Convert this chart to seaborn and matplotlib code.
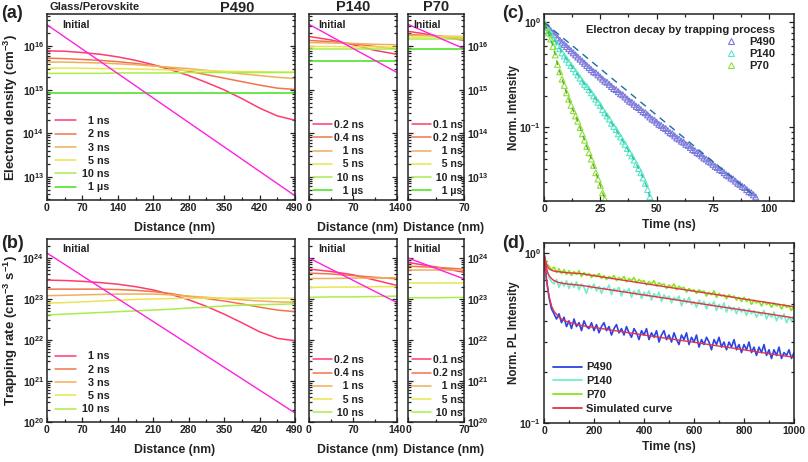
import matplotlib
matplotlib.use("Agg")
import matplotlib.pyplot as plt
import numpy as np
import seaborn as sns
from matplotlib.lines import Line2D
from matplotlib.ticker import LogLocator, MultipleLocator, NullFormatter

# ---------------- data ----------------
# (a) electron density, log10 of cm^-3
X490 = [0, 35, 70, 105, 140, 175, 210, 245, 280, 315, 350, 385, 420, 455, 490]
X140 = [0, 35, 70, 105, 140]
X70 = [0, 35, 70]

dens490_init = [16.50, 12.56]
dens490 = {
    "1 ns": [15.90, 15.89, 15.86, 15.82, 15.76, 15.68, 15.58, 15.46, 15.33, 15.17, 15.00, 14.80, 14.58, 14.40, 14.30],
    "2 ns": [15.73, 15.72, 15.70, 15.68, 15.65, 15.61, 15.56, 15.50, 15.43, 15.35, 15.27, 15.19, 15.11, 15.04, 15.01],
    "3 ns": [15.64, 15.64, 15.63, 15.62, 15.60, 15.58, 15.55, 15.52, 15.49, 15.45, 15.41, 15.37, 15.33, 15.29, 15.26],
    "5 ns": [15.50, 15.50, 15.50, 15.49, 15.49, 15.48, 15.47, 15.46, 15.45, 15.44, 15.43, 15.42, 15.42, 15.41, 15.41],
    "10 ns": [15.38, 15.38, 15.38, 15.38, 15.39, 15.39, 15.39, 15.39, 15.40, 15.40, 15.40, 15.40, 15.40, 15.40, 15.40],
    "1 µs": [14.93] * 15,
}
dens140_init = [16.51, 15.40]
dens140 = {
    "0.2 ns": [16.23, 16.15, 16.04, 15.91, 15.82],
    "0.4 ns": [16.14, 16.11, 16.06, 16.00, 15.95],
    "1 ns": [16.09, 16.08, 16.07, 16.05, 16.04],
    "5 ns": [16.00, 16.00, 15.99, 15.99, 15.98],
    "10 ns": [15.95, 15.95, 15.95, 15.95, 15.95],
    "1 µs": [15.66] * 5,
}
dens70_init = [16.51, 15.95]
dens70 = {
    "0.1 ns": [16.35, 16.25, 16.14],
    "0.2 ns": [16.28, 16.24, 16.19],
    "1 ns": [16.26, 16.24, 16.23],
    "5 ns": [16.21, 16.21, 16.21],
    "10 ns": [16.18, 16.18, 16.18],
    "1 µs": [15.94, 15.94, 15.94],
}

# (b) trapping rate, log10 of cm^-3 s^-1
trap490_init = [24.12, 20.22]
trap490 = {
    "1 ns": [23.46, 23.45, 23.43, 23.40, 23.36, 23.30, 23.22, 23.11, 22.98, 22.82, 22.63, 22.42, 22.20, 22.04, 21.98],
    "2 ns": [23.24, 23.24, 23.24, 23.24, 23.23, 23.21, 23.18, 23.13, 23.06, 23.01, 22.95, 22.88, 22.80, 22.73, 22.69],
    "3 ns": [23.08, 23.09, 23.10, 23.11, 23.12, 23.12, 23.12, 23.10, 23.07, 23.04, 23.01, 22.98, 22.95, 22.93, 22.92],
    "5 ns": [22.90, 22.91, 22.93, 22.95, 22.97, 22.99, 23.00, 23.01, 23.02, 23.02, 23.02, 23.02, 23.02, 23.02, 23.02],
    "10 ns": [22.61, 22.63, 22.65, 22.67, 22.69, 22.71, 22.73, 22.75, 22.78, 22.80, 22.83, 22.85, 22.86, 22.87, 22.88],
}
trap140_init = [24.00, 22.91]
trap140 = {
    "0.2 ns": [23.73, 23.67, 23.59, 23.46, 23.33],
    "0.4 ns": [23.63, 23.61, 23.57, 23.53, 23.49],
    "1 ns": [23.50, 23.50, 23.51, 23.51, 23.52],
    "5 ns": [23.28, 23.29, 23.29, 23.30, 23.30],
    "10 ns": [23.04, 23.05, 23.05, 23.06, 23.07],
}
trap70_init = [24.00, 23.49]
trap70 = {
    "0.1 ns": [23.89, 23.78, 23.65],
    "0.2 ns": [23.80, 23.77, 23.73],
    "1 ns": [23.71, 23.71, 23.71],
    "5 ns": [23.38, 23.38, 23.38],
    "10 ns": [23.03, 23.03, 23.04],
}

# legend labels padded with figure/punctuation spaces so the text lines up on the right
FS, PS = "\u2007", "\u2008"
LAB490 = {"1 ns": FS + "1 ns", "2 ns": FS + "2 ns", "3 ns": FS + "3 ns", "5 ns": FS + "5 ns",
          "10 ns": "10 ns", "1 µs": FS + "1 µs"}
LABSHORT = {"0.1 ns": "0.1 ns", "0.2 ns": "0.2 ns", "0.4 ns": "0.4 ns", "1 ns": FS + PS + "1 ns",
            "5 ns": FS + PS + "5 ns", "10 ns": PS + "10 ns", "1 µs": FS + PS + "1 µs"}

# (c) electron decay by trapping, log10 of normalised intensity, one value per ns
c490 = [0.00, -0.03, -0.05, -0.08, -0.10, -0.12, -0.15, -0.17, -0.19, -0.21,
        -0.23, -0.25, -0.27, -0.29, -0.31, -0.33, -0.35, -0.37, -0.39, -0.41,
        -0.43, -0.45, -0.47, -0.48, -0.50, -0.52, -0.54, -0.56, -0.57, -0.59,
        -0.61, -0.63, -0.64, -0.66, -0.68, -0.69, -0.71, -0.73, -0.75, -0.76,
        -0.78, -0.80, -0.81, -0.83, -0.85, -0.86, -0.88, -0.90, -0.92, -0.93,
        -0.95, -0.97, -0.98, -1.00, -1.01, -1.03, -1.05, -1.06, -1.08, -1.10,
        -1.11, -1.13, -1.14, -1.16, -1.17, -1.19, -1.21, -1.22, -1.24, -1.25,
        -1.27, -1.29, -1.30, -1.32, -1.33, -1.35, -1.37, -1.38, -1.40, -1.41,
        -1.43, -1.45, -1.46, -1.48, -1.49, -1.51, -1.53, -1.54, -1.56, -1.57,
        -1.59, -1.61, -1.62, -1.64, -1.66]
c140 = [0.00, -0.04, -0.08, -0.11, -0.15, -0.18, -0.22, -0.25, -0.29, -0.32,
        -0.35, -0.38, -0.41, -0.44, -0.47, -0.50, -0.53, -0.56, -0.59, -0.61,
        -0.64, -0.67, -0.70, -0.73, -0.76, -0.79, -0.83, -0.86, -0.89, -0.92,
        -0.96, -0.99, -1.02, -1.06, -1.09, -1.13, -1.16, -1.20, -1.24, -1.27,
        -1.31, -1.35, -1.39, -1.43, -1.48, -1.53, -1.59, -1.66]
c70 = [0.00, -0.05, -0.10, -0.16, -0.23, -0.31, -0.40, -0.47, -0.54, -0.60,
       -0.67, -0.73, -0.79, -0.84, -0.89, -0.94, -1.00, -1.06, -1.12, -1.18,
       -1.24, -1.30, -1.36, -1.43, -1.49, -1.55, -1.62, -1.68]
fit490_t = [0, 94]
fit490_y = [1.0, 0.0219]

# (d) PL decay, measured every 10 ns from 0 to 1000 ns
pl490 = [1.00, 0.70, 0.55, 0.47, 0.44, 0.41, 0.44, 0.39, 0.42, 0.37,
         0.40, 0.36, 0.41, 0.37, 0.39, 0.35, 0.40, 0.37, 0.36, 0.39,
         0.35, 0.38, 0.34, 0.37, 0.39, 0.35, 0.37, 0.33, 0.36, 0.38,
         0.34, 0.36, 0.33, 0.37, 0.34, 0.32, 0.36, 0.34, 0.31, 0.35,
         0.33, 0.36, 0.31, 0.34, 0.32, 0.35, 0.30, 0.33, 0.35, 0.31,
         0.33, 0.30, 0.34, 0.31, 0.29, 0.33, 0.31, 0.34, 0.29, 0.32,
         0.30, 0.33, 0.28, 0.31, 0.29, 0.32, 0.30, 0.27, 0.31, 0.29,
         0.32, 0.28, 0.30, 0.27, 0.30, 0.28, 0.31, 0.27, 0.29, 0.26,
         0.29, 0.27, 0.30, 0.26, 0.28, 0.25, 0.28, 0.26, 0.29, 0.25,
         0.27, 0.24, 0.27, 0.25, 0.28, 0.24, 0.26, 0.25, 0.27, 0.24, 0.26]
pl140 = [1.00, 0.80, 0.72, 0.68, 0.66, 0.70, 0.63, 0.68, 0.64, 0.69,
         0.62, 0.67, 0.63, 0.68, 0.61, 0.66, 0.63, 0.58, 0.65, 0.62,
         0.66, 0.60, 0.64, 0.58, 0.63, 0.61, 0.65, 0.57, 0.62, 0.60,
         0.63, 0.56, 0.61, 0.59, 0.62, 0.55, 0.60, 0.57, 0.61, 0.54,
         0.59, 0.56, 0.60, 0.53, 0.58, 0.55, 0.59, 0.52, 0.57, 0.54,
         0.56, 0.51, 0.55, 0.53, 0.56, 0.49, 0.54, 0.51, 0.55, 0.50,
         0.52, 0.48, 0.53, 0.50, 0.52, 0.47, 0.51, 0.49, 0.52, 0.46,
         0.50, 0.47, 0.51, 0.45, 0.49, 0.46, 0.48, 0.44, 0.48, 0.45,
         0.47, 0.43, 0.47, 0.44, 0.46, 0.42, 0.45, 0.43, 0.46, 0.41,
         0.44, 0.42, 0.45, 0.40, 0.43, 0.41, 0.44, 0.39, 0.42, 0.40, 0.43]
pl70 = [1.00, 0.87, 0.84, 0.80, 0.83, 0.77, 0.81, 0.76, 0.80, 0.75,
        0.79, 0.74, 0.78, 0.75, 0.79, 0.73, 0.77, 0.74, 0.76, 0.72,
        0.75, 0.73, 0.76, 0.71, 0.74, 0.70, 0.73, 0.71, 0.74, 0.69,
        0.72, 0.70, 0.73, 0.68, 0.71, 0.69, 0.72, 0.67, 0.70, 0.68,
        0.69, 0.65, 0.68, 0.66, 0.69, 0.64, 0.67, 0.65, 0.66, 0.62,
        0.65, 0.63, 0.66, 0.61, 0.64, 0.62, 0.63, 0.59, 0.62, 0.60,
        0.61, 0.58, 0.61, 0.59, 0.60, 0.56, 0.59, 0.57, 0.60, 0.55,
        0.58, 0.56, 0.57, 0.54, 0.57, 0.55, 0.56, 0.53, 0.55, 0.52,
        0.55, 0.52, 0.54, 0.50, 0.53, 0.51, 0.52, 0.49, 0.52, 0.50,
        0.51, 0.48, 0.51, 0.49, 0.50, 0.47, 0.50, 0.48, 0.49, 0.46, 0.49]
sim_t = [0, 5, 10, 15, 20, 30, 40, 60, 80, 100, 150, 200, 300, 400, 500, 600, 700, 800, 900, 1000]
sim490 = [1.0, 0.82, 0.70, 0.62, 0.56, 0.49, 0.455, 0.42, 0.402, 0.392, 0.375, 0.366, 0.347, 0.330,
          0.314, 0.299, 0.284, 0.270, 0.256, 0.244]
sim140 = [1.0, 0.90, 0.82, 0.77, 0.74, 0.71, 0.69, 0.672, 0.664, 0.658, 0.647, 0.630, 0.598, 0.568,
          0.540, 0.512, 0.486, 0.462, 0.439, 0.416]
sim70 = [1.0, 0.91, 0.86, 0.83, 0.81, 0.795, 0.785, 0.778, 0.772, 0.767, 0.758, 0.738, 0.700, 0.664,
         0.630, 0.598, 0.568, 0.538, 0.511, 0.484]

COLORS = {
    "init": "#ff20e0",
    "1": "#ff3c6e", "2": "#f2744a", "3": "#f0ae5c", "5": "#e8e650", "10": "#aaee4a", "us": "#44e01c",
}
CURVE_COLORS = {"1 ns": COLORS["1"], "2 ns": COLORS["2"], "3 ns": COLORS["3"],
                "5 ns": COLORS["5"], "10 ns": COLORS["10"], "1 µs": COLORS["us"]}
SHORT_COLORS = {"0.2 ns": COLORS["1"], "0.4 ns": COLORS["2"], "1 ns": COLORS["3"],
                "5 ns": COLORS["5"], "10 ns": COLORS["10"], "1 µs": COLORS["us"]}
SHORT70_COLORS = {"0.1 ns": COLORS["1"], "0.2 ns": COLORS["2"], "1 ns": COLORS["3"],
                  "5 ns": COLORS["5"], "10 ns": COLORS["10"], "1 µs": COLORS["us"]}

# ---------------- style ----------------
sns.set_theme(style="ticks")
plt.rcParams["font.family"] = ["Liberation Sans", "DejaVu Sans"]
plt.rcParams.update({
    "font.weight": "bold",
    "axes.labelweight": "bold",
    "axes.linewidth": 1.1,
    "axes.edgecolor": "#222222",
    "text.color": "#222222",
    "axes.labelcolor": "#222222",
    "xtick.color": "#222222",
    "ytick.color": "#222222",
    "mathtext.fontset": "custom",
    "mathtext.rm": "Liberation Sans:bold",
    "mathtext.it": "Liberation Sans:bold:italic",
    "mathtext.bf": "Liberation Sans:bold",
    "mathtext.default": "rm",
})

W, H = 808, 462
fig = plt.figure(figsize=(W / 100, H / 100), dpi=100)


def box(x0, y0, x1, y1):
    # pixel box -> figure fraction rect
    return [x0 / W, 1 - y1 / H, (x1 - x0) / W, (y1 - y0) / H]


def style_log(ax, left_labels=True, right_labels=False, tick_fs=7.5):
    ax.set_yscale("log")
    ax.yaxis.set_major_locator(LogLocator(base=10, numticks=20))
    ax.yaxis.set_minor_locator(LogLocator(base=10, subs=np.arange(2, 10), numticks=20))
    ax.yaxis.set_minor_formatter(NullFormatter())
    ax.tick_params(axis="both", which="both", direction="in", labelsize=tick_fs, width=0.9)
    ax.tick_params(axis="both", which="major", length=3.5, pad=2)
    ax.tick_params(axis="both", which="minor", length=2)
    ax.tick_params(axis="y", which="both", left=True, right=True,
                   labelleft=left_labels, labelright=right_labels)


def draw_profiles(ax, xs, init, curves, colors, labels, xmax, ylim, narrow=False):
    for name, vals in curves.items():
        sns.lineplot(x=xs, y=10 ** np.array(vals), ax=ax, color=colors[name], lw=1.1,
                     label=labels[name], sort=False)
    sns.lineplot(x=[0, xmax], y=10 ** np.array(init), ax=ax, color=COLORS["init"], lw=1.0,
                 label="_init", sort=False)
    ax.set_xlim(0, xmax)
    style_log(ax)
    ax.set_ylim(*ylim)
    ax.text(0.06 if not narrow else 0.1, 0.97, "Initial", transform=ax.transAxes, ha="left", va="top",
            fontsize=7.5, fontweight="bold")
    handles, labs = ax.get_legend_handles_labels()
    keep = [(h, l) for h, l in zip(handles, labs) if not l.startswith("_")]
    if narrow:
        kw = dict(handlelength=1.75, handletextpad=0.25, borderaxespad=0.15, borderpad=0.25,
                  labelspacing=0.3, prop={"weight": "bold", "size": 7.6})
    else:
        kw = dict(handlelength=2.0, handletextpad=0.5, borderaxespad=0.3, borderpad=0.4,
                  labelspacing=0.3, prop={"weight": "bold", "size": 7.8})
    ax.legend([k[0] for k in keep], [k[1] for k in keep], loc="lower left", frameon=False, **kw)


def xticks_dist(ax, label_x):
    ax.xaxis.set_major_locator(MultipleLocator(70))
    ax.xaxis.set_minor_locator(MultipleLocator(35))
    ax.set_xlabel("Distance (nm)", fontsize=8.8)
    ax.xaxis.set_label_coords(label_x, -0.12)
    ax.tick_params(axis="x", which="both", top=False)


# ---------------- (a) ----------------
ylim_a = (2.9e12, 5.6e16)
ax = fig.add_axes(box(47, 14, 295, 200))
draw_profiles(ax, X490, dens490_init, dens490, CURVE_COLORS, LAB490, 490, ylim_a)
xticks_dist(ax, 0.516)
ax.set_ylabel("Electron density (cm$^{-3}$)", fontsize=9.5)
ax.yaxis.set_label_coords(-0.11, 0.5)
fig.text(237 / W, 1 - 8 / H, "P490", ha="center", va="center", fontsize=10.5, fontweight="bold")
fig.text(50 / W, 1 - 7 / H, "Glass/Perovskite", ha="left", va="center", fontsize=8, fontweight="bold")

ax = fig.add_axes(box(309, 14, 397, 200))
draw_profiles(ax, X140, dens140_init, dens140, SHORT_COLORS, LABSHORT, 140, ylim_a, narrow=True)
ax.tick_params(axis="y", which="both", labelleft=False)
xticks_dist(ax, 0.55)
ax.set_title("P140", fontsize=10.5, fontweight="bold", pad=2)

ax = fig.add_axes(box(408, 14, 464, 200))
draw_profiles(ax, X70, dens70_init, dens70, SHORT70_COLORS, LABSHORT, 70, ylim_a, narrow=True)
ax.tick_params(axis="y", which="both", labelleft=False, labelright=True)
xticks_dist(ax, 0.64)
ax.set_title("P70", fontsize=10.5, fontweight="bold", pad=2)

# ---------------- (b) ----------------
ylim_b = (1e20, 2.9e24)
ax = fig.add_axes(box(47, 239, 295, 422))
draw_profiles(ax, X490, trap490_init, trap490, CURVE_COLORS, LAB490, 490, ylim_b)
xticks_dist(ax, 0.516)
ax.set_ylabel("Trapping rate (cm$^{-3}$ s$^{-1}$)", fontsize=9.5)
ax.yaxis.set_label_coords(-0.11, 0.5)

ax = fig.add_axes(box(309, 239, 397, 422))
draw_profiles(ax, X140, trap140_init, trap140, SHORT_COLORS, LABSHORT, 140, ylim_b, narrow=True)
ax.tick_params(axis="y", which="both", labelleft=False)
xticks_dist(ax, 0.55)

ax = fig.add_axes(box(408, 239, 464, 422))
draw_profiles(ax, X70, trap70_init, trap70, SHORT70_COLORS, LABSHORT, 70, ylim_b, narrow=True)
ax.tick_params(axis="y", which="both", labelleft=False, labelright=True)
xticks_dist(ax, 0.64)

# ---------------- (c) ----------------
ax = fig.add_axes(box(544, 14, 794, 201))
series_c = [("P490", c490, "#7a78dc", "#5a58c0"),
            ("P140", c140, "#55e8c8", "#30b8a0"),
            ("P70", c70, "#8ee03a", "#5aa820")]
for name, vals, col, dark in series_c[1:]:
    t = np.arange(len(vals))
    sns.lineplot(x=t, y=10 ** np.array(vals), ax=ax, color=dark, lw=0.9, ls=(0, (4, 4)))
sns.lineplot(x=fit490_t, y=fit490_y, ax=ax, color="#1f6e9c", lw=1.0, ls=(0, (5, 4)))
for name, vals, col, dark in series_c:
    t = np.arange(len(vals))
    sns.scatterplot(x=t, y=10 ** np.array(vals), ax=ax, marker="^", s=18,
                    facecolor="none", edgecolor=col, linewidth=0.8)
ax.set_xlim(0, 111)
style_log(ax)
ax.set_ylim(0.02, 1.2)
ax.xaxis.set_major_locator(MultipleLocator(25))
ax.xaxis.set_minor_locator(MultipleLocator(12.5))
ax.tick_params(axis="x", which="both", top=True)
ax.set_xlabel("Time (ns)", fontsize=8.7, labelpad=4)
ax.set_ylabel("Norm. Intensity", fontsize=8.4)
ax.yaxis.set_label_coords(-0.094, 0.5)
hc = [Line2D([], [], ls="none", marker="^", ms=4.5, mfc="none", mec=c, mew=0.8) for _, _, c, _ in series_c]
ax.legend(hc, ["P490", "P140", "P70"], title="Electron decay by trapping process", loc="upper right",
          bbox_to_anchor=(0.955, 0.985), frameon=False, alignment="right", handletextpad=0.6,
          labelspacing=0.2, borderaxespad=0.3,
          prop={"weight": "bold", "size": 8}, title_fontproperties={"weight": "bold", "size": 8})

# ---------------- (d) ----------------
ax = fig.add_axes(box(544, 243, 794, 423))
t_pl = np.arange(0, 1001, 10)
for vals, col, lab in [(pl140, "#72f0c8", "P140"), (pl70, "#84e81c", "P70"), (pl490, "#2a44e0", "P490")]:
    sns.lineplot(x=t_pl, y=vals, ax=ax, color=col, lw=1.2, label=lab)
for vals in (sim490, sim140, sim70):
    sns.lineplot(x=sim_t, y=vals, ax=ax, color="#e8304c", lw=1.0)
ax.set_xlim(0, 1000)
style_log(ax)
ax.set_ylim(0.1, 1.15)
ax.xaxis.set_major_locator(MultipleLocator(200))
ax.xaxis.set_minor_locator(MultipleLocator(100))
ax.tick_params(axis="x", which="both", top=True)
ax.set_xlabel("Time (ns)", fontsize=8.7, labelpad=4)
ax.set_ylabel("Norm. PL Intensity", fontsize=8.4)
ax.yaxis.set_label_coords(-0.094, 0.5)
hd = [Line2D([], [], color=c, lw=1.3) for c in ("#2a44e0", "#72f0c8", "#84e81c", "#e8304c")]
ax.legend(hd, ["P490", "P140", "P70", "Simulated curve"], loc="lower left", frameon=False,
          handlelength=2.6, handletextpad=0.4, labelspacing=0.35, borderaxespad=0.4,
          prop={"weight": "bold", "size": 8})

# ---------------- panel letters ----------------
for lab, x, y in [("(a)", 1, 14), ("(b)", 1, 243), ("(c)", 502, 14), ("(d)", 502, 243)]:
    fig.text(x / W, 1 - y / H, lab, ha="left", va="center", fontsize=13, fontweight="bold")

fig.savefig("out.png", dpi=100)
